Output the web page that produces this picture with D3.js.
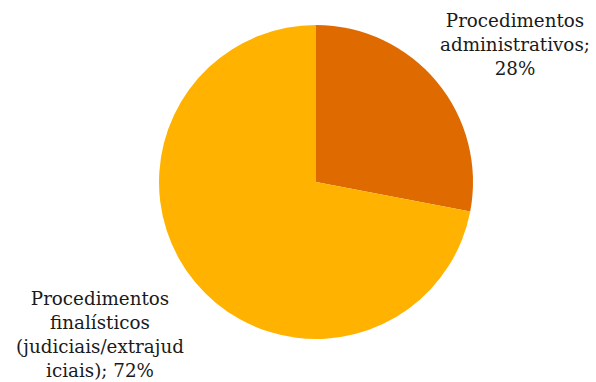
<!DOCTYPE html>
<html>
<head>
<meta charset="utf-8">
<script src="https://cdn.jsdelivr.net/npm/d3@7"></script>
<style>
  html, body { margin: 0; padding: 0; background: #ffffff; }
  svg { display: block; }
</style>
</head>
<body>
<svg id="chart" width="596" height="382"></svg>
<script>
// Share of procedures by type
const categories = ["Procedimentos administrativos", "Procedimentos finalísticos (judiciais/extrajudiciais)"];
const values = [28, 72];
const colors = ["#DE6A00", "#FFB300"];
// Data labels, already broken into lines
const labelLines = [
  ["Procedimentos", "administrativos;", "28%"],
  ["Procedimentos", "finalísticos", "(judiciais/extrajud", "iciais); 72%"]
];
const labelAnchors = [[515, 27], [100, 305]];

const svg = d3.select("#chart");
const cx = 316, cy = 182, r = 157;

const pie = d3.pie().sort(null).value(d => d)(values);
const arc = d3.arc().innerRadius(0).outerRadius(r);

const g = svg.append("g").attr("transform", `translate(${cx},${cy})`);
g.selectAll("path")
  .data(pie)
  .join("path")
  .attr("d", arc)
  .attr("fill", (d, i) => colors[i]);

const lineH = 24;
labelLines.forEach((lines, i) => {
  const t = svg.append("text")
    .attr("x", labelAnchors[i][0])
    .attr("y", labelAnchors[i][1])
    .attr("text-anchor", "middle")
    .attr("font-family", "'DejaVu Serif', Georgia, serif")
    .attr("font-size", 18.3)
    .attr("fill", "#1a1a1a");
  lines.forEach((s, k) => {
    t.append("tspan")
      .attr("x", labelAnchors[i][0])
      .attr("dy", k === 0 ? 0 : lineH)
      .text(s);
  });
});
</script>
</body>
</html>
